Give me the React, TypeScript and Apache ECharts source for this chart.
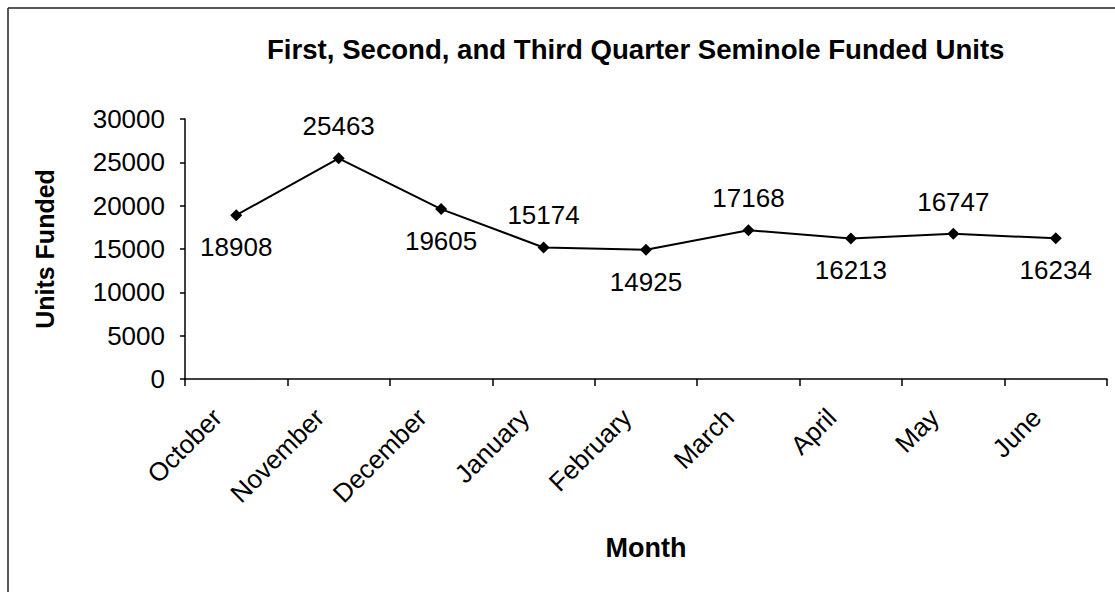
import React, { useEffect, useRef } from "react";
import * as echarts from "echarts";

const months = ["October", "November", "December", "January", "February", "March", "April", "May", "June"];
const unitsFunded = [18908, 25463, 19605, 15174, 14925, 17168, 16213, 16747, 16234];
const yTicks = { min: 0, max: 30000, interval: 5000 };

const FONT = "'Liberation Sans', Arial, Helvetica, sans-serif";

export default function App() {
  const ref = useRef<HTMLDivElement>(null);
  useEffect(() => {
    if (!ref.current) return;
    const chart = echarts.init(ref.current, null, { renderer: "svg" });
    chart.setOption({
      animation: false,
      backgroundColor: "#ffffff",
      textStyle: { fontFamily: FONT, color: "#000" },
      title: {
        text: "First, Second, and Third Quarter Seminole Funded Units",
        left: 262,
        top: 30,
        textStyle: { fontFamily: FONT, fontWeight: "bold", fontSize: 27.6, color: "#000" },
      },
      graphic: [
        { type: "line", shape: { x1: 8, y1: 8, x2: 1115, y2: 8 }, style: { stroke: "#222", lineWidth: 1.5 } },
        { type: "line", shape: { x1: 8, y1: 8, x2: 8, y2: 592 }, style: { stroke: "#222", lineWidth: 1.5 } },
      ],
      grid: { left: 185, right: 8, top: 119, bottom: 213 },
      xAxis: {
        type: "category",
        data: months,
        boundaryGap: true,
        name: "Month",
        nameLocation: "middle",
        nameGap: 155,
        nameTextStyle: { fontFamily: FONT, fontWeight: "bold", fontSize: 27, color: "#000" },
        axisLine: { lineStyle: { color: "#000", width: 1.5 } },
        axisTick: { show: true, length: 7, lineStyle: { color: "#000", width: 1.5 } },
        axisLabel: {
          rotate: 45,
          margin: 15,
          padding: [0, 27, 0, 0],
          fontFamily: FONT,
          fontSize: 26,
          color: "#000",
        },
        splitLine: { show: false },
      },
      yAxis: {
        type: "value",
        min: yTicks.min,
        max: yTicks.max,
        interval: yTicks.interval,
        name: "Units Funded",
        nameLocation: "middle",
        nameRotate: 90,
        nameGap: 128,
        nameTextStyle: { fontFamily: FONT, fontWeight: "bold", fontSize: 25, color: "#000" },
        axisLine: { show: true, lineStyle: { color: "#000", width: 1.5 } },
        axisTick: { show: true, length: 5, lineStyle: { color: "#000", width: 1.5 } },
        axisLabel: {
          margin: 20,
          formatter: (v: number) => String(v),
          fontFamily: FONT,
          fontSize: 26,
          color: "#000",
        },
        splitLine: { show: false },
      },
      series: [
        {
          type: "line",
          data: unitsFunded.map((v, i) => ({
            value: v,
            label: { position: i % 2 === 0 ? "bottom" : "top" },
          })),
          symbol: "diamond",
          symbolSize: 12,
          lineStyle: { color: "#000", width: 2 },
          itemStyle: { color: "#000" },
          label: {
            show: true,
            distance: 13,
            fontFamily: FONT,
            fontSize: 26,
            color: "#000",
          },
        },
      ],
    });
    return () => chart.dispose();
  }, []);
  return (
    <div
      ref={ref}
      style={{ position: "fixed", left: 0, top: 0, width: 1115, height: 592, background: "#fff" }}
    />
  );
}
